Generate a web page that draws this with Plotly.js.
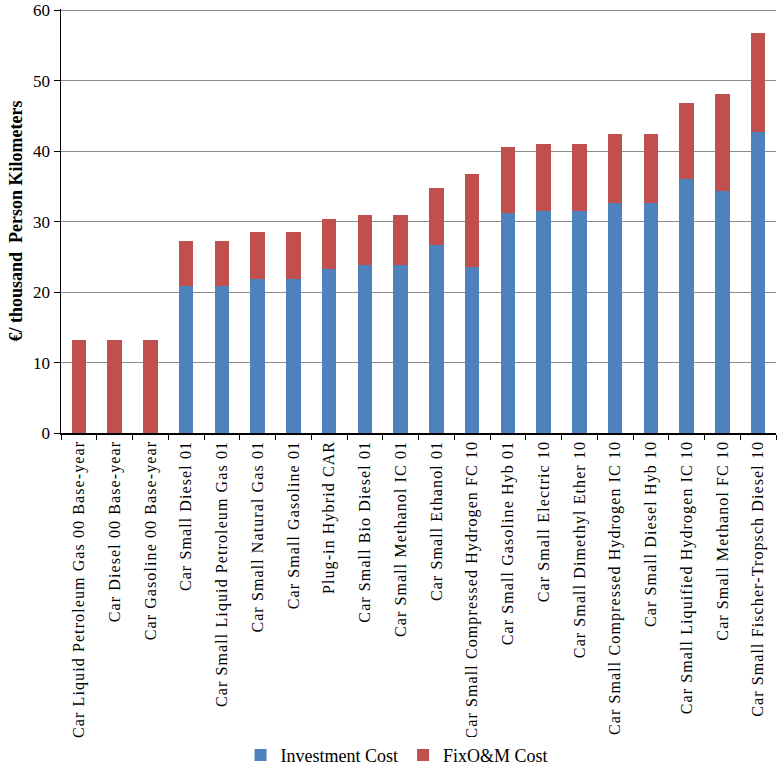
<!DOCTYPE html>
<html>
<head>
<meta charset="utf-8">
<script src="https://cdn.plot.ly/plotly-3.0.1.min.js"></script>
<style>
  html, body { margin: 0; padding: 0; background: #fff; }
  #chart { width: 777px; height: 774px; }
  /* the original labels are letter-spaced */
  #chart .xtick text { letter-spacing: 1.1px; }
</style>
</head>
<body>
<div id="chart"></div>
<script>
var categories = [
    "Car Liquid Petroleum Gas 00 Base-year",
    "Car Diesel 00 Base-year",
    "Car Gasoline 00 Base-year",
    "Car Small Diesel 01",
    "Car Small Liquid Petroleum Gas 01",
    "Car Small Natural Gas 01",
    "Car Small Gasoline 01",
    "Plug-in Hybrid CAR",
    "Car Small Bio Diesel 01",
    "Car Small Methanol IC 01",
    "Car Small Ethanol 01",
    "Car Small Compressed Hydrogen FC 10",
    "Car Small Gasoline Hyb 01",
    "Car Small Electric 10",
    "Car Small Dimethyl Ether 10",
    "Car Small Compressed Hydrogen IC 10",
    "Car Small Diesel Hyb 10",
    "Car Small Liquified Hydrogen IC 10",
    "Car Small Methanol FC 10",
    "Car Small Fischer-Tropsch Diesel 10"
];

var investmentCost = [0, 0, 0, 20.9, 20.9, 21.9, 21.9, 23.3, 23.8, 23.8,
    26.7, 23.6, 31.3, 31.5, 31.5, 32.6, 32.6, 36.1, 34.4, 42.8];
var fixOMCost = [13.2, 13.2, 13.2, 6.4, 6.4, 6.7, 6.7, 7.1, 7.2, 7.2,
    8.1, 13.2, 9.3, 9.5, 9.5, 9.9, 9.9, 10.8, 13.8, 14.0];

var seriesNames = ["Investment Cost", "FixO&M Cost"];
var seriesColors = ["#4F81BD", "#C0504D"];

var fontFamily = "'Liberation Serif', 'Times New Roman', serif";

var graphData = [
    {
        x: categories,
        y: investmentCost,
        type: 'bar',
        name: seriesNames[0],
        marker: { color: seriesColors[0] }
    },
    {
        x: categories,
        y: fixOMCost,
        type: 'bar',
        name: seriesNames[1],
        marker: { color: seriesColors[1] }
    }
];

var layout = {
    width: 777,
    height: 774,
    barmode: 'stack',
    bargap: 0.6,
    margin: { l: 61, r: 1, t: 9, b: 337 },
    paper_bgcolor: '#fff',
    plot_bgcolor: '#fff',
    font: { family: fontFamily, size: 16, color: '#000' },
    showlegend: true,
    legend: {
        orientation: 'h',
        x: 0.47,
        xanchor: 'center',
        y: -0.76,
        yanchor: 'middle',
        font: { family: fontFamily, size: 18, color: '#000' },
        itemwidth: 30,
        traceorder: 'normal'
    },
    xaxis: {
        type: 'category',
        tickangle: -90,
        ticks: 'outside',
        tickson: 'boundaries',
        ticklen: 5,
        tickcolor: '#000',
        showline: true,
        linecolor: '#000',
        linewidth: 1.5,
        tickfont: { family: fontFamily, size: 16, color: '#000' },
        automargin: false
    },
    yaxis: {
        range: [0, 60.2],
        tickvals: [0, 10, 20, 30, 40, 50, 60],
        ticks: 'outside',
        ticklen: 6,
        tickcolor: '#000',
        ticklabeloverflow: 'allow',
        showline: true,
        linecolor: '#000',
        linewidth: 1.5,
        showgrid: true,
        gridcolor: '#8c8c8c',
        gridwidth: 1,
        zeroline: false,
        tickfont: { family: fontFamily, size: 17, color: '#000' },
        title: {
            text: '<b>€/ thousand  Person Kilometers</b>',
            font: { family: fontFamily, size: 18, color: '#000' },
            standoff: 6
        },
        automargin: false
    }
};

Plotly.newPlot('chart', graphData, layout, { displayModeBar: false, staticPlot: true });
</script>
</body>
</html>
